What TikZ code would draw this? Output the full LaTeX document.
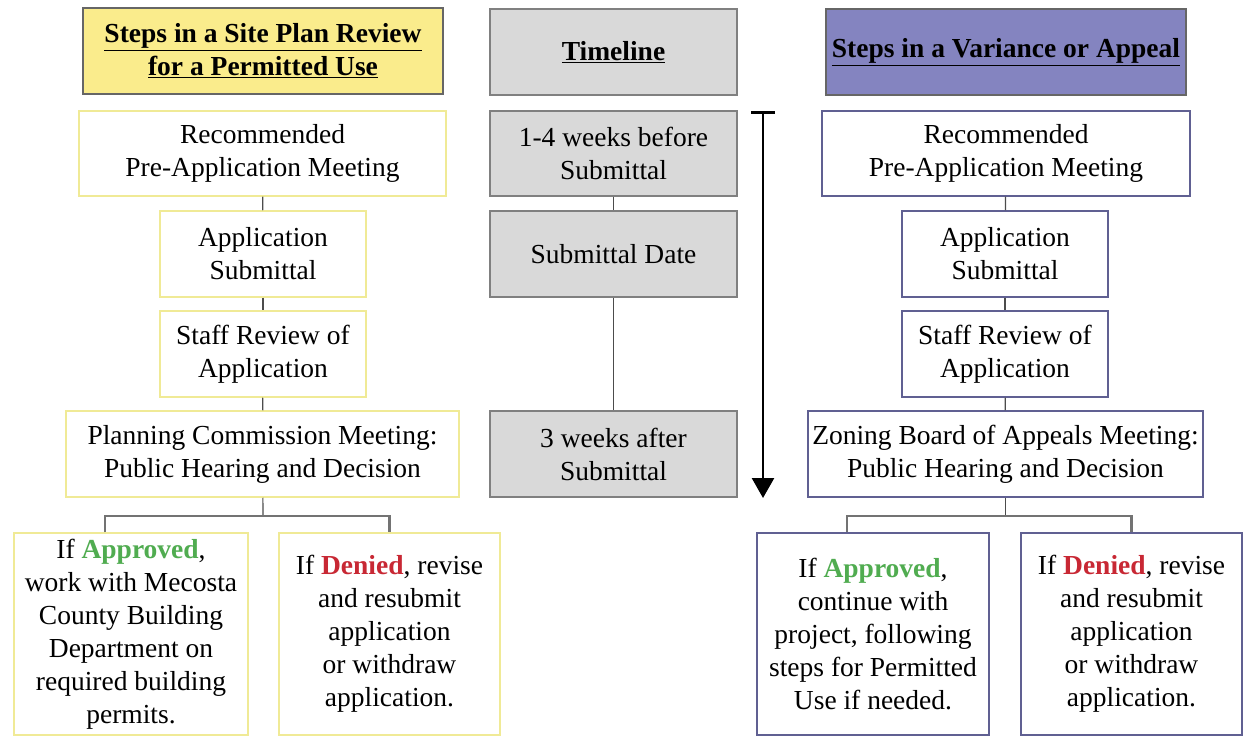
\documentclass[tikz,border=0pt]{standalone}
\usepackage{fontspec}
\setmainfont{Liberation Serif}
\usetikzlibrary{arrows.meta}
\definecolor{hdyel}{RGB}{250,236,140}
\definecolor{bdyel}{RGB}{240,234,150}
\definecolor{hdpur}{RGB}{132,132,192}
\definecolor{bdpur}{RGB}{96,96,146}
\definecolor{tlgray}{RGB}{217,217,217}
\definecolor{okgreen}{RGB}{80,172,80}
\definecolor{nored}{RGB}{200,40,52}
\def\yes{\textbf{\color{okgreen}Approved}}
\def\no{\textbf{\color{nored}Denied}}
\def\hd#1{\textbf{\underline{#1}}}
\tikzset{
  box/.style={draw, line width=1.5pt, align=center, inner sep=0pt,
    font=\fontsize{27.5}{33}\selectfont},
  ybox/.style={box, draw=bdyel, fill=white},
  pbox/.style={box, draw=bdpur, fill=white},
  tbox/.style={box, draw=gray, fill=tlgray, minimum width=247pt, minimum height=85pt},
  link/.style={draw=black!70, line width=1.2pt},
  bar/.style={draw=black!55, line width=2.5pt}
}

\begin{document}
\begin{tikzpicture}[x=1pt,y=-1pt]
\useasboundingbox (0,0) rectangle (1245,751);
% headers
\node[box, draw=black!60, fill=hdyel, minimum width=360pt, minimum height=86pt] (lhead) at (263,51)
  {\hd{Steps in a Site Plan Review}\\\hd{for a Permitted Use}};
\node[tbox, minimum height=86pt] (thead) at (613.5,52) {\hd{Timeline}};
\node[box, draw=black!60, fill=hdpur, minimum width=360pt, minimum height=86pt] (rhead) at (1006,52)
  {\hd{Steps in a Variance or Appeal}};
% site plan review
\node[ybox, minimum width=367pt, minimum height=85pt] (lpre) at (262.5,153.5) {Recommended\\Pre-Application Meeting};
\node[ybox, minimum width=206pt, minimum height=86pt] (lapp) at (263,254) {Application\\Submittal};
\node[ybox, minimum width=206pt, minimum height=86pt] (lrev) at (263,354) {Staff Review of\\Application};
\node[ybox, minimum width=393pt, minimum height=86pt] (lmeet) at (262.5,454) {Planning Commission Meeting:\\Public Hearing and Decision};
\node[ybox, minimum width=234pt, minimum height=202pt] (lyes) at (131,634)
  {If \yes,\\work with Mecosta\\County Building\\Department on\\required building\\permits.};
\node[ybox, minimum width=221pt, minimum height=202pt] (lno) at (389.5,634)
  {If \no, revise\\and resubmit\\application\\or withdraw\\application.};
\draw[link] (lpre) -- (lapp);
\draw[link] (lapp) -- (lrev);
\draw[link] (lrev) -- (lmeet);
\draw[link] (lmeet) -- (263,516);
\draw[bar] ([xshift=-26pt]lyes.north) |- (263,516) -| (lno.north);
% timeline
\node[tbox] (t1) at (613.5,153.5) {1-4 weeks before\\Submittal};
\node[tbox, minimum height=86pt] (t2) at (613.5,254) {Submittal Date};
\node[tbox, minimum height=86pt] (t3) at (613.5,454) {3 weeks after\\Submittal};
\draw[link] (t1) -- (t2);
\draw[link] (t2) -- (t3);
\coordinate (tstart) at (763,111);
\coordinate (tend) at (763,498);
\draw[line width=2.6pt, {Bar[width=24pt]}-{Triangle[width=22pt,length=20pt]}] (tstart) -- (tend);
% variance or appeal
\node[pbox, minimum width=368pt, minimum height=85pt] (rpre) at (1006,153.5) {Recommended\\Pre-Application Meeting};
\node[pbox, minimum width=206pt, minimum height=86pt] (rapp) at (1005,254) {Application\\Submittal};
\node[pbox, minimum width=206pt, minimum height=86pt] (rrev) at (1005,354) {Staff Review of\\Application};
\node[pbox, minimum width=395pt, minimum height=86pt] (rmeet) at (1005.5,454) {Zoning Board of Appeals Meeting:\\Public Hearing and Decision};
\node[pbox, minimum width=232pt, minimum height=202pt] (ryes) at (873,634)
  {If \yes,\\continue with\\project, following\\steps for Permitted\\Use if needed.};
\node[pbox, minimum width=221pt, minimum height=202pt] (rno) at (1131.5,634)
  {If \no, revise\\and resubmit\\application\\or withdraw\\application.};
\draw[link] (rpre) -- (rapp);
\draw[link] (rapp) -- (rrev);
\draw[link] (rrev) -- (rmeet);
\draw[link] (rmeet) -- (1005.5,516);
\draw[bar] ([xshift=-26pt]ryes.north) |- (1005.5,516) -| (rno.north);
\end{tikzpicture}
\end{document}
